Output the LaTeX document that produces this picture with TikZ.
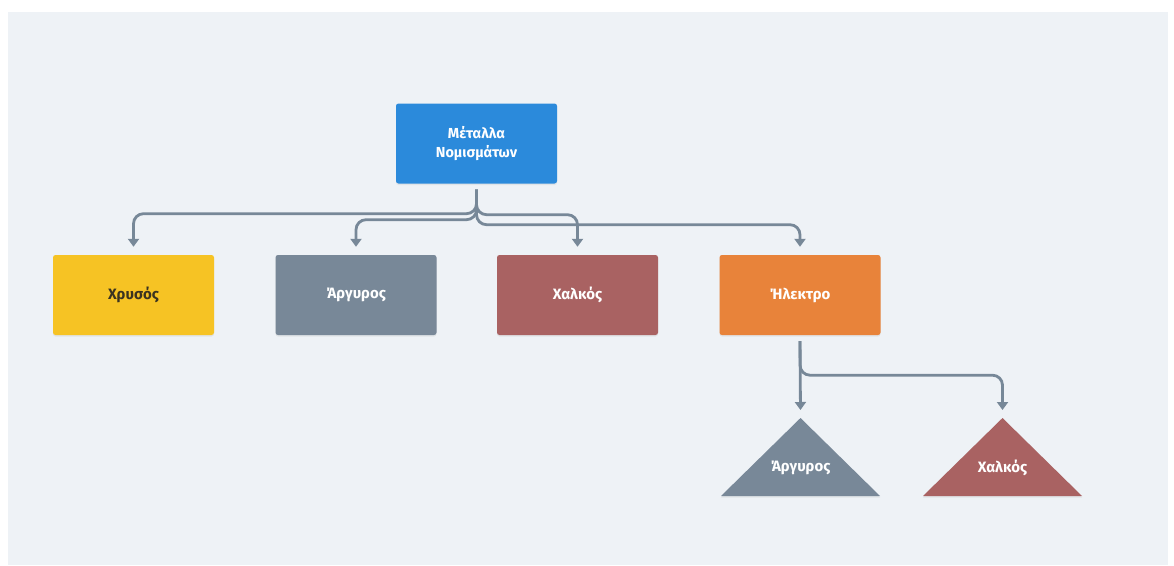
\documentclass[tikz,border=0pt]{standalone}
\usepackage{fontspec}
\setmainfont{Fira Sans}
\usetikzlibrary{arrows.meta,shadows,calc}
\definecolor{bgc}{HTML}{EEF2F6}
\definecolor{rootc}{HTML}{2B8ADB}
\definecolor{goldc}{HTML}{F6C324}
\definecolor{silverc}{HTML}{788898}
\definecolor{copperc}{HTML}{A96262}
\definecolor{orangec}{HTML}{E8833A}
\definecolor{linec}{HTML}{778898}
\definecolor{darktext}{HTML}{3A3320}
\tikzset{
  box/.style={rectangle, rounded corners=2.5pt, minimum width=161pt, minimum height=80pt,
    inner sep=0pt, align=center, font=\fontsize{15}{19}\selectfont\bfseries,
    drop shadow={opacity=0.12, shadow xshift=0pt, shadow yshift=-1.5pt}},
  rootbox/.style={box, fill=rootc, text=white, font=\fontsize{14.5}{19.5}\selectfont\bfseries},
  tritext/.style={inner sep=0pt, text=white, font=\fontsize{15}{16}\selectfont\bfseries},
  conn/.style={draw=linec, line width=2.8pt, rounded corners=10pt,
    -{Triangle[width=11pt,length=8pt]}, shorten <=6pt, shorten >=8pt},
}
\begin{document}
\begin{tikzpicture}[x=1pt,y=-1pt]
\useasboundingbox (0,0) rectangle (1174,565);
\fill[white] (0,0) rectangle (1174,565);
\fill[bgc] (8,12) rectangle (1168,565);

\node[rootbox] (root) at (476.5,143.5) {Μέταλλα\\Νομισμάτων};
\node[box, fill=goldc, text=darktext] (gold) at (133.5,295) {Χρυσός};
\node[box, fill=silverc, text=white] (silver) at (356,295) {Άργυρος};
\node[box, fill=copperc, text=white] (copper) at (577.5,295) {Χαλκός};
\node[box, fill=orangec, text=white] (electrum) at (800,295) {Ήλεκτρο};

% triangles
\coordinate (silvertop) at (800.5,418);
\coordinate (coppertop) at (1002.5,418);
\fill[silverc, drop shadow={opacity=0.12, shadow xshift=0pt, shadow yshift=-1.5pt}]
  (silvertop) -- ++(-79.5,78) -- ++(159,0) -- cycle;
\fill[copperc, drop shadow={opacity=0.12, shadow xshift=0pt, shadow yshift=-1.5pt}]
  (coppertop) -- ++(-79.5,78) -- ++(159,0) -- cycle;
\node[tritext] (silver2) at (800.5,468) {Άργυρος};
\node[tritext] (copper2) at (1002.5,468) {Χαλκός};

% connectors from root
\draw[conn] (root.south) -- ++(0,30) -| (gold.north);
\draw[conn] (root.south) -- ++(0,36) -| (silver.north);
\draw[conn] (root.south) -- ++(0,31) -| (copper.north);
\draw[conn] (root.south) -- ++(0,41) -| (electrum.north);

% connectors from electrum
\draw[conn] (electrum.south) -- (silvertop);
\draw[conn] (electrum.south) -- ++(0,40) -| (coppertop);
\end{tikzpicture}
\end{document}
